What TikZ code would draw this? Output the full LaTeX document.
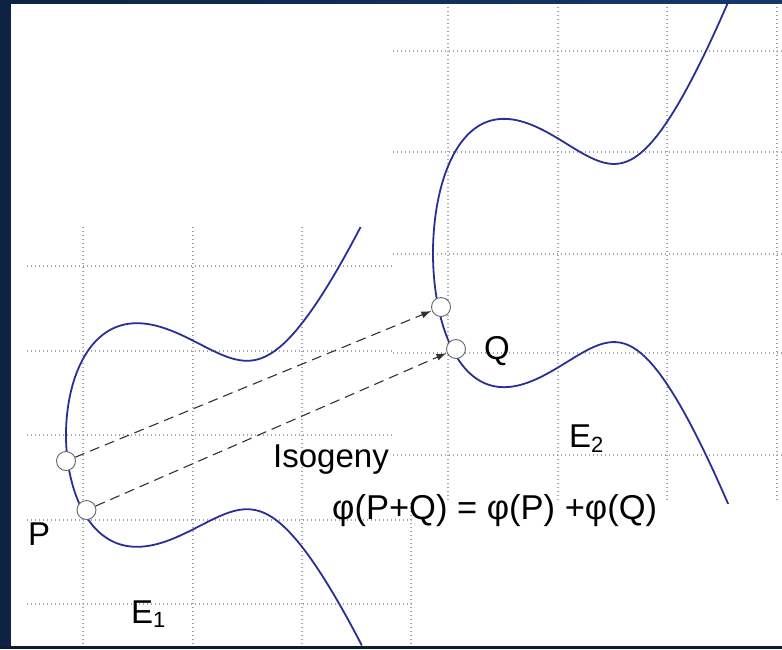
\documentclass[tikz,border=0pt]{standalone}
\usepackage{fontspec}
\setmainfont{Liberation Sans}
\usetikzlibrary{arrows.meta}
\definecolor{framenavy}{RGB}{13,35,65}
\definecolor{framenavyB}{RGB}{22,57,107}
\definecolor{framebottom}{RGB}{14,28,52}
\definecolor{curveblue}{RGB}{40,48,150}
\definecolor{gridgray}{RGB}{165,165,165}
\definecolor{arrowgray}{RGB}{50,50,50}
\tikzset{
  gridline/.style={gridgray, line width=1.2pt, dash pattern=on 1.3pt off 2.7pt},
  ecurve/.style={curveblue, line width=1.8pt},
  ptcircle/.style={circle, draw=black!60, fill=white, line width=0.9pt, minimum size=19pt, inner sep=0pt},
  mapping/.style={arrowgray, line width=1.1pt, dash pattern=on 10pt off 6pt, -{Latex[length=10pt,width=7pt]}, shorten >=0.5pt},
  txt/.style={inner sep=0pt, font=\fontsize{33}{40}\selectfont},
}
\begin{document}
\begin{tikzpicture}[x=1pt,y=-1pt]
\useasboundingbox (0,0) rectangle (782,649);
\fill[white] (0,0) rectangle (782,649);
% ---- left graph (E1)
\begin{scope}
  \clip (27,227) rectangle (414,646);
  \foreach \yy in {266,351,435,520,604} \draw[gridline] (27,\yy) -- (414,\yy);
  \foreach \xx in {83,193,302,411} \draw[gridline] (\xx,227) -- (\xx,646);
  \draw[ecurve] plot[variable=\t, domain=-1.72:1.72, samples=241]
    ({66+100*\t*\t},{435-100*\t*sqrt(1.0507*(\t*\t*\t*\t-3.78*\t*\t+3.8553))});
\end{scope}
% ---- right graph (E2)
\fill[white] (393,3) rectangle (782,503);
\begin{scope}
  \clip (393,3) rectangle (782,503);
  \foreach \yy in {51,152,254,353,455} \draw[gridline] (393,\yy) -- (782,\yy);
  \foreach \xx in {448,558,667,777} \draw[gridline] (\xx,3) -- (\xx,500);
  \draw[ecurve] plot[variable=\t, domain=-1.73:1.73, samples=241]
    ({433+100*\t*\t},{253-120*\t*sqrt(1.0507*(\t*\t*\t*\t-3.78*\t*\t+3.8553))});
\end{scope}
% ---- frame
\fill[framenavy] (0,0) rectangle (11,649);
\shade[left color=framenavy, right color=framenavyB] (0,0) rectangle (782,3);
\fill[framebottom] (0,646) rectangle (782,649);
% ---- points and isogeny arrows
\node[ptcircle] (p1) at (66,461) {};
\node[ptcircle] (p2) at (86.5,510) {};
\node[ptcircle] (q1) at (441,307) {};
\node[ptcircle] (q2) at (456,349) {};
\draw[mapping] (p1) -- (q1);
\draw[mapping] (p2) -- (q2);
% ---- labels
\node[txt, anchor=base west] (lblP) at (28,545) {P};
\node[txt, anchor=base west] (lblQ) at (484,359) {Q};
\node[txt, anchor=base west] (lblE1) at (131,623) {E\raisebox{-4pt}{\fontsize{22}{22}\selectfont 1}};
\node[txt, anchor=base west] (lblE2) at (569,447) {E\raisebox{-5pt}{\fontsize{22}{22}\selectfont 2}};
\node[txt, anchor=base west] (iso) at (273,467) {Isogeny};
\node[txt, anchor=base west, font=\fontsize{34.5}{40}\selectfont] (law) at (332,519) {φ(P+Q) = φ(P) +φ(Q)};
\end{tikzpicture}
\end{document}
